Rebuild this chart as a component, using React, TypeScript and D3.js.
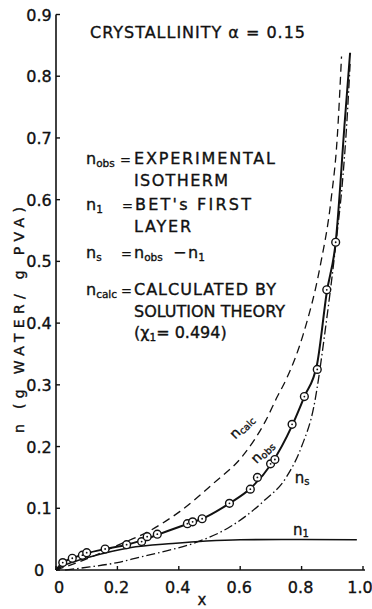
import React from "react";
import * as d3 from "d3";

// ---- data ----
const xTicks = [0, 0.2, 0.4, 0.6, 0.8, 1.0];
const xTickLabels = ["0", "0.2", "0.4", "0.6", "0.8", "1.0"];
const yTicks = [0, 0.1, 0.2, 0.3, 0.4, 0.5, 0.6, 0.7, 0.8, 0.9];
const yTickLabels = ["0", "0.1", "0.2", "0.3", "0.4", "0.5", "0.6", "0.7", "0.8", "0.9"];

// experimental points (x, n_obs)
const obsX = [0.022, 0.053, 0.086, 0.1, 0.16, 0.23, 0.279, 0.297, 0.33, 0.428, 0.445, 0.476, 0.565, 0.633, 0.656, 0.699, 0.713, 0.769, 0.809, 0.851, 0.882, 0.911];
const obsY = [0.012, 0.019, 0.024, 0.028, 0.034, 0.041, 0.046, 0.054, 0.058, 0.075, 0.078, 0.083, 0.108, 0.131, 0.15, 0.172, 0.179, 0.236, 0.281, 0.325, 0.454, 0.531];

// n_obs smooth curve
const obsLineX = [0, 0.022, 0.053, 0.1, 0.16, 0.23, 0.28, 0.33, 0.43, 0.476, 0.565, 0.633, 0.7, 0.769, 0.809, 0.851, 0.882, 0.911, 0.941, 0.958];
const obsLineY = [0, 0.012, 0.019, 0.027, 0.034, 0.041, 0.048, 0.057, 0.075, 0.083, 0.108, 0.132, 0.171, 0.234, 0.281, 0.335, 0.45, 0.531, 0.729, 0.838];

// n_1 BET first layer
const n1X = [0, 0.02, 0.05, 0.11, 0.24, 0.38, 0.49, 0.6, 0.8, 0.98];
const n1Y = [0, 0.006, 0.012, 0.021, 0.036, 0.043, 0.047, 0.049, 0.0495, 0.049];

// n_s = n_obs - n_1
const nsX = [0.03, 0.11, 0.2, 0.274, 0.36, 0.458, 0.567, 0.675, 0.751, 0.8, 0.84, 0.88, 0.912, 0.935, 0.948, 0.958];
const nsY = [0, 0.005, 0.012, 0.021, 0.031, 0.045, 0.07, 0.111, 0.151, 0.2, 0.265, 0.4, 0.53, 0.64, 0.73, 0.82];

// n_calc solution theory
const calcX = [0, 0.1, 0.2, 0.3, 0.36, 0.404, 0.512, 0.61, 0.681, 0.721, 0.751, 0.806, 0.86, 0.896, 0.916, 0.93];
const calcY = [0, 0.018, 0.04, 0.062, 0.08, 0.095, 0.14, 0.186, 0.24, 0.281, 0.31, 0.383, 0.491, 0.6, 0.7, 0.832];

const FONT = "'DejaVu Sans', sans-serif";

export default function App() {
  const W = 372, H = 609;
  const x = d3.scaleLinear().domain([0, 1]).range([56, 363]);
  const y = d3.scaleLinear().domain([0, 0.9]).range([570, 14.5]);

  const line = d3
    .line<[number, number]>()
    .x((d) => x(d[0]))
    .y((d) => y(d[1]))
    .curve(d3.curveMonotoneX);

  const zip = (a: number[], b: number[]) => a.map((v, i) => [v, b[i]] as [number, number]);

  const obsPath = line(zip(obsLineX, obsLineY)) || "";
  const n1Path = line(zip(n1X, n1Y)) || "";
  const nsPath = line(zip(nsX, nsY)) || "";
  const calcPath = line(zip(calcX, calcY)) || "";

  const legendSize = 16;
  const subSize = 10.5;

  const Lbl = ({ px, py, sub, size = legendSize, ssize = subSize }: any) => (
    <text x={px} y={py} fontSize={size} fontFamily={FONT}>
      n
      <tspan fontSize={ssize} dy={3}>{sub}</tspan>
    </text>
  );

  return (
    <svg width={W} height={H} style={{ position: "absolute", left: 0, top: 0, background: "#fff" }}>
      <g fill="#111" stroke="#111" strokeWidth={0.35}>
        {yTicks.map((t, i) => (
          <text key={"yl" + i} x={39} y={y(t) + 6} fontSize={16} fontFamily={FONT} textAnchor="middle">
            {yTickLabels[i]}
          </text>
        ))}
        {xTicks.map((t, i) => (
          <text key={"xl" + i} x={x(t) + (i === 0 ? 3 : i === 5 ? -3 : -1)} y={593} fontSize={16} fontFamily={FONT} textAnchor="middle">
            {xTickLabels[i]}
          </text>
        ))}
        <text x={202} y={605} fontSize={15} fontFamily={FONT} textAnchor="middle">x</text>
        <text
          transform={`translate(24,320) rotate(-90)`}
          fontSize={14}
          fontFamily={FONT}
          textAnchor="middle"
          textLength={226}
          lengthAdjust="spacing"
        >
          n (g WATER/ g PVA)
        </text>

        {/* title */}
        <text x={90} y={38} fontSize={16} fontFamily={FONT} textLength={215} lengthAdjust="spacing">
          CRYSTALLINITY α = 0.15
        </text>

        {/* legend */}
        <Lbl px={86} py={164} sub="obs" />
        <text x={120} y={164} fontSize={13} fontFamily={FONT}>=</text>
        <text x={134} y={164} fontSize={legendSize} fontFamily={FONT} textLength={141} lengthAdjust="spacing">EXPERIMENTAL</text>
        <text x={134} y={186} fontSize={legendSize} fontFamily={FONT} textLength={94} lengthAdjust="spacing">ISOTHERM</text>

        <Lbl px={86} py={210} sub="1" />
        <text x={122} y={210} fontSize={13} fontFamily={FONT}>=</text>
        <text x={135} y={210} fontSize={legendSize} fontFamily={FONT} textLength={116} lengthAdjust="spacing">BET's FIRST</text>
        <text x={134} y={232} fontSize={legendSize} fontFamily={FONT} textLength={57} lengthAdjust="spacing">LAYER</text>

        <Lbl px={86} py={258} sub="s" />
        <text x={121} y={258} fontSize={13} fontFamily={FONT}>=</text>
        <Lbl px={134} py={258} sub="obs" />
        <text x={173} y={258} fontSize={legendSize} fontFamily={FONT}>−</text>
        <Lbl px={188} py={258} sub="1" />

        <Lbl px={86} py={295} sub="calc" />
        <text x={121} y={295} fontSize={13} fontFamily={FONT}>=</text>
        <text x={134} y={295} fontSize={legendSize} fontFamily={FONT} textLength={142} lengthAdjust="spacing">CALCULATED BY</text>
        <text x={134} y={317} fontSize={legendSize} fontFamily={FONT} textLength={151} lengthAdjust="spacing">SOLUTION THEORY</text>
        <text x={134} y={338} fontSize={legendSize} fontFamily={FONT}>
          (χ<tspan fontSize={subSize} dy={3}>1</tspan><tspan dy={-3}>= 0.494)</tspan>
        </text>

        {/* curve labels */}
        <g transform={`translate(${x(0.616)},${y(0.227)}) rotate(-45)`}>
          <text fontSize={14} fontFamily={FONT} textAnchor="middle">
            n<tspan fontSize={9.5} dy={2}>calc</tspan>
          </text>
        </g>
        <g transform={`translate(${x(0.683)},${y(0.186)}) rotate(-45)`}>
          <text fontSize={14} fontFamily={FONT} textAnchor="middle">
            n<tspan fontSize={9.5} dy={2}>obs</tspan>
          </text>
        </g>
        <text x={x(0.778)} y={y(0.141)} fontSize={15} fontFamily={FONT}>
          n<tspan fontSize={10} dy={2}>s</tspan>
        </text>
        <text x={x(0.772)} y={y(0.057)} fontSize={15} fontFamily={FONT}>
          n<tspan fontSize={10} dy={2}>1</tspan>
        </text>
      </g>

      {/* axes */}
      <line x1={x(0)} x2={x(0)} y1={y(0)} y2={y(0.9)} stroke="#111" strokeWidth={1.6} />
      <line x1={x(0)} x2={x(1) + 2} y1={y(0)} y2={y(0)} stroke="#111" strokeWidth={1.6} />
      {yTicks.map((t, i) => (
        <line key={"yt" + i} x1={x(0)} x2={x(0) + 4} y1={y(t)} y2={y(t)} stroke="#111" strokeWidth={1.4} />
      ))}
      {xTicks.map((t, i) => (
        <line key={"xt" + i} x1={x(t)} x2={x(t)} y1={y(0)} y2={y(0) - 4} stroke="#111" strokeWidth={1.4} />
      ))}

      {/* curves */}
      <path d={calcPath} fill="none" stroke="#111" strokeWidth={1.3} strokeDasharray="8,5" />
      <path d={nsPath} fill="none" stroke="#111" strokeWidth={1.3} strokeDasharray="9,3,1.5,3" />
      <path d={n1Path} fill="none" stroke="#111" strokeWidth={1.6} />
      <path d={obsPath} fill="none" stroke="#111" strokeWidth={2} />

      {obsX.map((v, i) => (
        <g key={"p" + i}>
          <circle cx={x(v)} cy={y(obsY[i])} r={3.9} fill="#fff" stroke="#111" strokeWidth={1.4} />
          <circle cx={x(v)} cy={y(obsY[i])} r={0.9} fill="#111" />
        </g>
      ))}
    </svg>
  );
}
